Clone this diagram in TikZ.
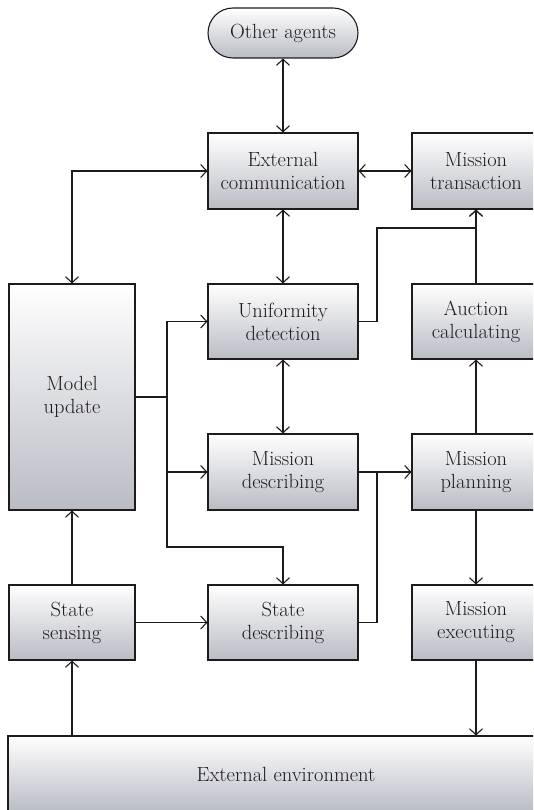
\documentclass[tikz,border=0pt]{standalone}
\usetikzlibrary{arrows.meta}
\definecolor{boxgray}{RGB}{186,188,196}
\definecolor{inkgray}{RGB}{30,27,28}
\tikzset{
  blok/.style={draw=inkgray, line width=1.1pt, top color=white, bottom color=boxgray,
    align=center, inner sep=0pt, text=inkgray, font=\fontsize{20.5}{23}\selectfont},
  conn/.style={draw=inkgray, line width=1.1pt},
  >={Straight Barb[length=6pt,width=13pt]}
}
\begin{document}
\begin{tikzpicture}[x=1pt,y=-1pt]
    \useasboundingbox (0,0) rectangle (533,810);
    \clip (0,0) rectangle (533,810);
    % 方框
    \node[blok, rounded corners=25pt, minimum width=150pt, minimum height=50pt] (oth) at (283,33) {Other agents};
    \node[blok, minimum width=150pt, minimum height=76pt] (ext) at (283,171) {External\\communication};
    \node[blok, minimum width=128pt, minimum height=76pt] (trans) at (476,171) {Mission\\transaction};
    \node[blok, minimum width=150pt, minimum height=75pt] (uni) at (283,321.5) {Uniformity\\detection};
    \node[blok, minimum width=128pt, minimum height=75pt] (auc) at (476,321.5) {Auction\\calculating};
    \node[blok, minimum width=126pt, minimum height=226pt] (mod) at (72,397) {Model\\update};
    \node[blok, minimum width=150pt, minimum height=76pt] (mdes) at (283,472) {Mission\\describing};
    \node[blok, minimum width=128pt, minimum height=76pt] (plan) at (476,472) {Mission\\planning};
    \node[blok, minimum width=126pt, minimum height=75pt] (sen) at (72,622.5) {State\\sensing};
    \node[blok, minimum width=150pt, minimum height=75pt] (sdes) at (283,622.5) {State\\describing};
    \node[blok, minimum width=128pt, minimum height=75pt] (exe) at (476,622.5) {Mission\\executing};
    \node[blok, minimum width=556pt, minimum height=76pt] (env) at (286,774) {External environment};
    % 分支点
    \coordinate (uj) at (377,228);
    \coordinate (mj) at (167,397);
    \coordinate (mk) at (167,547);
    \coordinate (sj) at (377,472);
    % 连线
    \draw[conn,<->] (oth) -- (ext);
    \draw[conn,<->] (ext) -- (trans);
    \draw[conn,<->] (ext.west) -| (mod.north);
    \draw[conn,<->] (ext) -- (uni);
    \draw[conn,->] (uni.east) -| (uj) -| (trans.south);
    \draw[conn,->] (auc) -- (trans);
    \draw[conn,->] (plan) -- (auc);
    \draw[conn,<->] (uni) -- (mdes);
    \draw[conn] (mod.east) -- (mj);
    \draw[conn,->] (mj) |- (uni.west);
    \draw[conn,->] (mj) |- (mdes.west);
    \draw[conn,->] (mj) -- (mk) -| (sdes.north);
    \draw[conn,->] (mdes) -- (plan);
    \draw[conn] (sdes.east) -| (sj);
    \draw[conn,->] (plan) -- (exe);
    \draw[conn,->] (exe) -- (exe |- env.north);
    \draw[conn,->] (sen |- env.north) -- (sen);
    \draw[conn,->] (sen) -- (mod);
    \draw[conn,->] (sen) -- (sdes);
\end{tikzpicture}
\end{document}
